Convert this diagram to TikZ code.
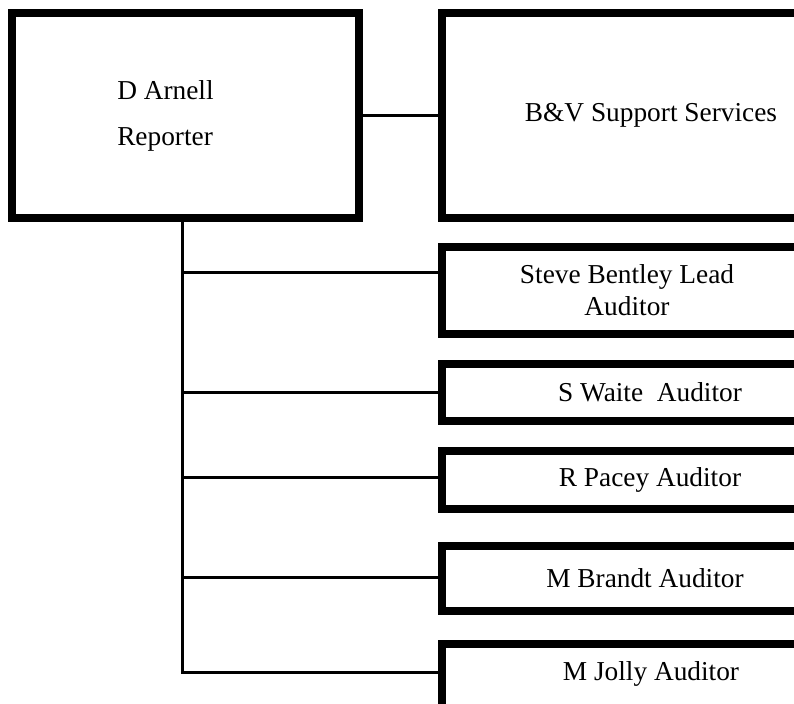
\documentclass[tikz,border=0pt]{standalone}
\usepackage{fontspec}
\setmainfont{Liberation Serif}
\tikzset{unit/.style={draw,rectangle,line width=6pt,inner sep=0pt,align=center,
    font=\fontsize{20.5}{24}\selectfont}}
\tikzset{link/.style={line width=2.25pt}}
\begin{document}
\begin{tikzpicture}[x=0.75pt,y=-0.75pt]
                \clip (0,0) rectangle (794,704);
                \node [unit,minimum width=260.25pt,minimum height=153.75pt] (arnell) at (185.5,115.5) {};
                \node [anchor=west,align=left,inner sep=0pt,font=\fontsize{20.5}{24}\selectfont] (arnelltxt) at (117,116) {D Arnell\\[10pt]Reporter};
                \node [unit,minimum width=313.5pt,minimum height=153.75pt] (bv) at (651,115.5) {B\&V Support Services};
                \node [unit,minimum width=277.5pt,minimum height=65.25pt] (steve) at (627,290.5) {Steve Bentley Lead\\Auditor};
                \node [unit,minimum width=312pt,minimum height=42.75pt] (waite) at (650,392.5) {S Waite\ \ Auditor};
                \node [unit,minimum width=312pt,minimum height=43.5pt] (pacey) at (650,480) {R Pacey Auditor};
                \node [unit,minimum width=304.5pt,minimum height=48.75pt] (brandt) at (645,578.5) {M Brandt Auditor};
                \node [unit,anchor=north west,minimum width=315pt,minimum height=75pt] (jolly) at (438,640) {};
                \node [inner sep=0pt,font=\fontsize{20.5}{24}\selectfont] (jollytxt) at (651,674) {M Jolly Auditor};
                
                \coordinate (tend) at (182,672);
                \foreach \n/\y in {steve/272,waite/392,pacey/477,brandt/577}
                \coordinate (\n-in) at (182,\y);
                
                \draw [link] (arnell) -- (bv);
                \draw [link] (arnell.south -| tend) |- (jolly.west |- tend);
                \foreach \n in {steve,waite,pacey,brandt}
                \draw [link] (\n-in) -- (\n-in -| \n.west);
            \end{tikzpicture}
\end{document}
